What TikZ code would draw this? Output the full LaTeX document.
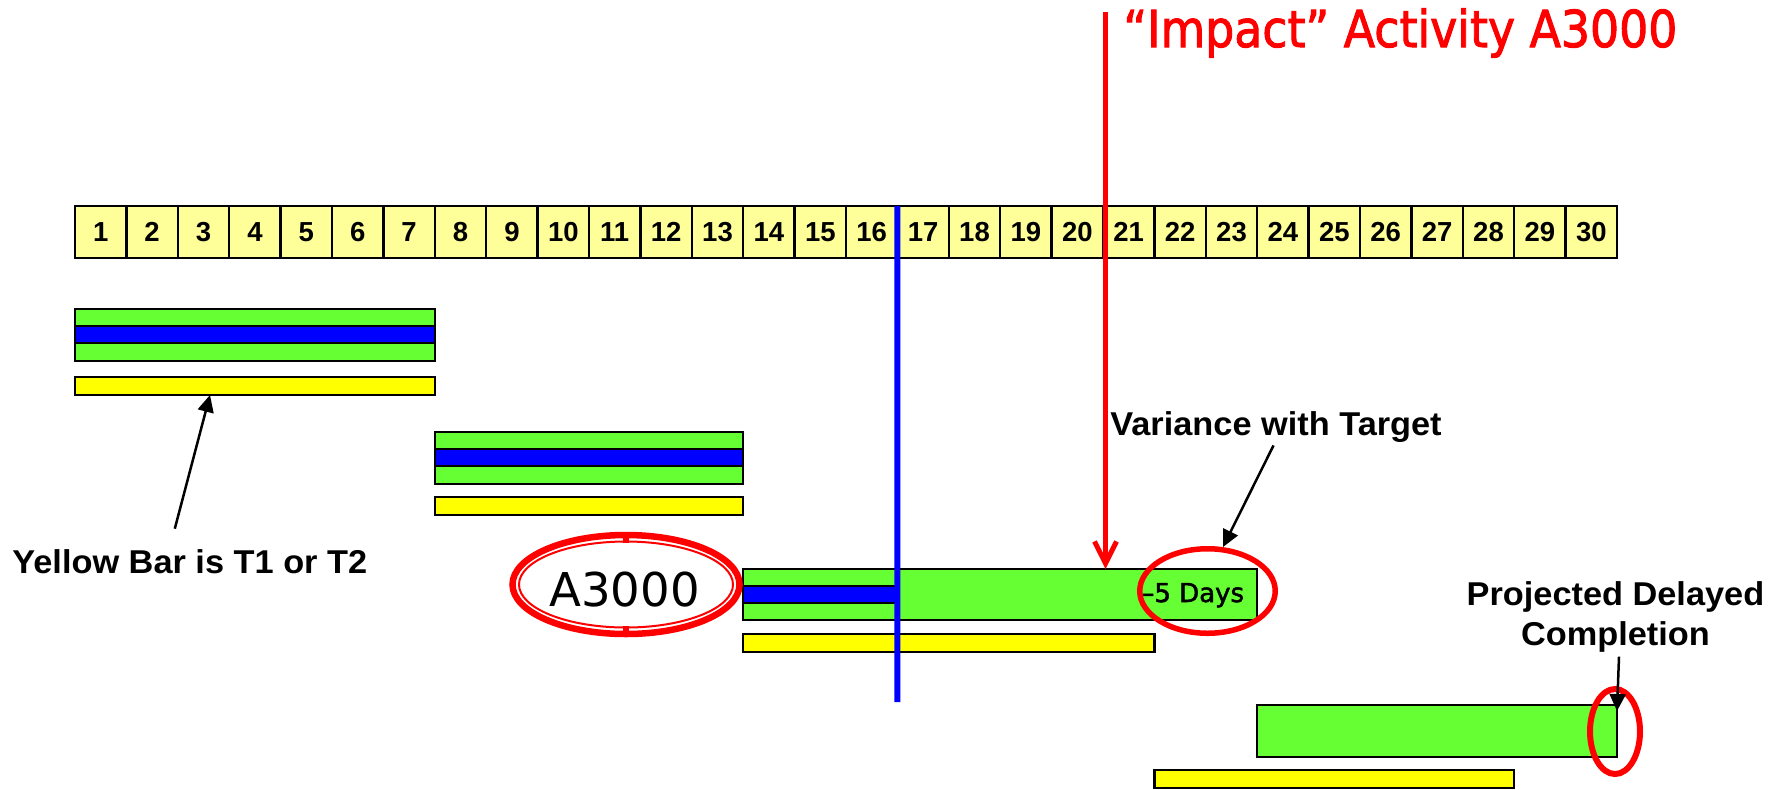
\documentclass[tikz,border=0pt]{standalone}
\usepackage{graphicx}
\usepackage{fontspec}
\setmainfont{Liberation Sans}
\newfontfamily\vfont{DejaVu Sans}
\newfontfamily\vboldfont[FakeBold=2]{DejaVu Sans}
\usetikzlibrary{shapes.geometric,arrows.meta}
\definecolor{dayfill}{HTML}{FFFF99}
\definecolor{barGreen}{HTML}{66FF33}
\definecolor{barBlue}{HTML}{0000FF}
\definecolor{barYellow}{HTML}{FFFF00}
\definecolor{hotred}{HTML}{FF0000}
\newcommand{\wide}[1]{\scalebox{1.04}[1]{#1}}

\begin{document}
\begin{tikzpicture}[x=0.5pt,y=-0.5pt,
  daycell/.style={draw=black, line width=1.2pt, fill=dayfill,
    minimum width=25.7pt, minimum height=26pt, inner sep=0pt, outer sep=0pt,
    anchor=north west, font=\bfseries\fontsize{13.75}{16}\selectfont},
  barbox/.style={draw=black, line width=1.1pt, inner sep=0pt, outer sep=0pt,
    anchor=north west},
  ring/.style={ellipse, draw=hotred, inner sep=0pt, outer sep=0pt},
  note/.style={font=\bfseries\fontsize{16.5}{20}\selectfont, inner sep=0pt},
  pointer/.style={draw=black, line width=1.25pt,
    -{Triangle[length=8.5pt,width=8pt]}},
  statusline/.style={draw=barBlue, line width=3pt},
  impactline/.style={draw=hotred, line width=2.5pt,
    -{Straight Barb[length=11pt,width=11pt]}}
]
\path[use as bounding box] (0,0) rectangle (1783,789);

% day scale
\foreach \i in {1,...,30}
  \node[daycell] (d\i) at ({75+(\i-1)*51.4},206) {\i};

% activity 1
\node[barbox, fill=barGreen, minimum width=179.9pt, minimum height=26pt] (g1) at (75,309) {};
\node[barbox, fill=barBlue, minimum width=179.9pt, minimum height=8.5pt] (u1) at (75,326) {};
\node[barbox, fill=barYellow, minimum width=179.9pt, minimum height=9pt] (y1) at (75,377) {};

% activity 2
\node[barbox, fill=barGreen, minimum width=154.2pt, minimum height=26pt] (g2) at (434.8,432) {};
\node[barbox, fill=barBlue, minimum width=154.2pt, minimum height=8.5pt] (u2) at (434.8,449) {};
\node[barbox, fill=barYellow, minimum width=154.2pt, minimum height=9pt] (y2) at (434.8,497) {};

% activity A3000
\node[barbox, fill=barGreen, minimum width=257pt, minimum height=25.5pt] (g3) at (743.2,569) {};
\node[barbox, fill=barBlue, minimum width=77.1pt, minimum height=8.5pt] (u3) at (743.2,586) {};
\node[barbox, fill=barYellow, minimum width=205.6pt, minimum height=9pt] (y3) at (743.2,634) {};

% successor activity
\node[barbox, fill=barGreen, minimum width=179.9pt, minimum height=26pt] (g4) at (1257.2,705) {};
\node[barbox, fill=barYellow, minimum width=179.9pt, minimum height=9pt] (y4) at (1154.4,770) {};

% status date line
\coordinate (statusEnd) at (897.4,702);
\draw[statusline] (d16.north east) -- (statusEnd);

% impact marker
\coordinate (impactTop) at (1105.5,12);
\draw[impactline] (impactTop) -- (impactTop |- g3.north);
\node[anchor=base west, inner sep=0pt, text=hotred,
  font=\vboldfont\fontsize{25.4}{30}\selectfont] (title) at (1123,47)
  {\resizebox{277pt}{\height}{“Impact” Activity A3000}};

% A3000 callout
\node[ring, line width=3.25pt, minimum width=113.5pt, minimum height=49.5pt] (aring) at (626,584.5) {};
\draw[hotred, line width=1pt] (aring.center) ellipse [x radius=53.5pt, y radius=21.5pt];
\fill[hotred] ([xshift=-1.5pt]aring.north) rectangle ([xshift=1.5pt,yshift=-4pt]aring.north);
\fill[hotred] ([xshift=-1.5pt]aring.south) rectangle ([xshift=1.5pt,yshift=4pt]aring.south);
\node[anchor=base west, inner sep=0pt, font=\vfont\fontsize{23.3}{28}\selectfont] (aname) at (549,606) {A3000};

% variance
\node[anchor=base west, inner sep=0pt, font=\vboldfont\fontsize{13}{16}\selectfont] (days) at (1141,602) {–5 Days};
\node[ring, line width=2.75pt, minimum width=67.75pt, minimum height=42.25pt] (dring) at (1207.5,591) {};

% projected finish
\node[ring, line width=3pt, minimum width=25pt, minimum height=42.5pt] (pring) at (1615,731.5) {};

% notes
\node[note, anchor=base west] (lab1) at (12,573) {\wide{Yellow Bar is T1 or T2}};
\node[note, anchor=base west] (lab2) at (1110,435) {\wide{Variance with Target}};
\node[note, anchor=north, align=center] (lab3) at (1615.5,581) {\wide{Projected Delayed}\\\wide{Completion}};

\coordinate (yTip) at (210,395);
\coordinate (vTip) at (1223,547);
\draw[pointer] ([xshift=-7.5pt,yshift=10pt]lab1.north) -- (yTip);
\draw[pointer] ([xshift=-1.25pt,yshift=-1.5pt]lab2.south) -- (vTip);
\draw[pointer] ([xshift=1.75pt,yshift=-2pt]lab3.south) -- ([yshift=-3pt]g4.north east);
\end{tikzpicture}
\end{document}
